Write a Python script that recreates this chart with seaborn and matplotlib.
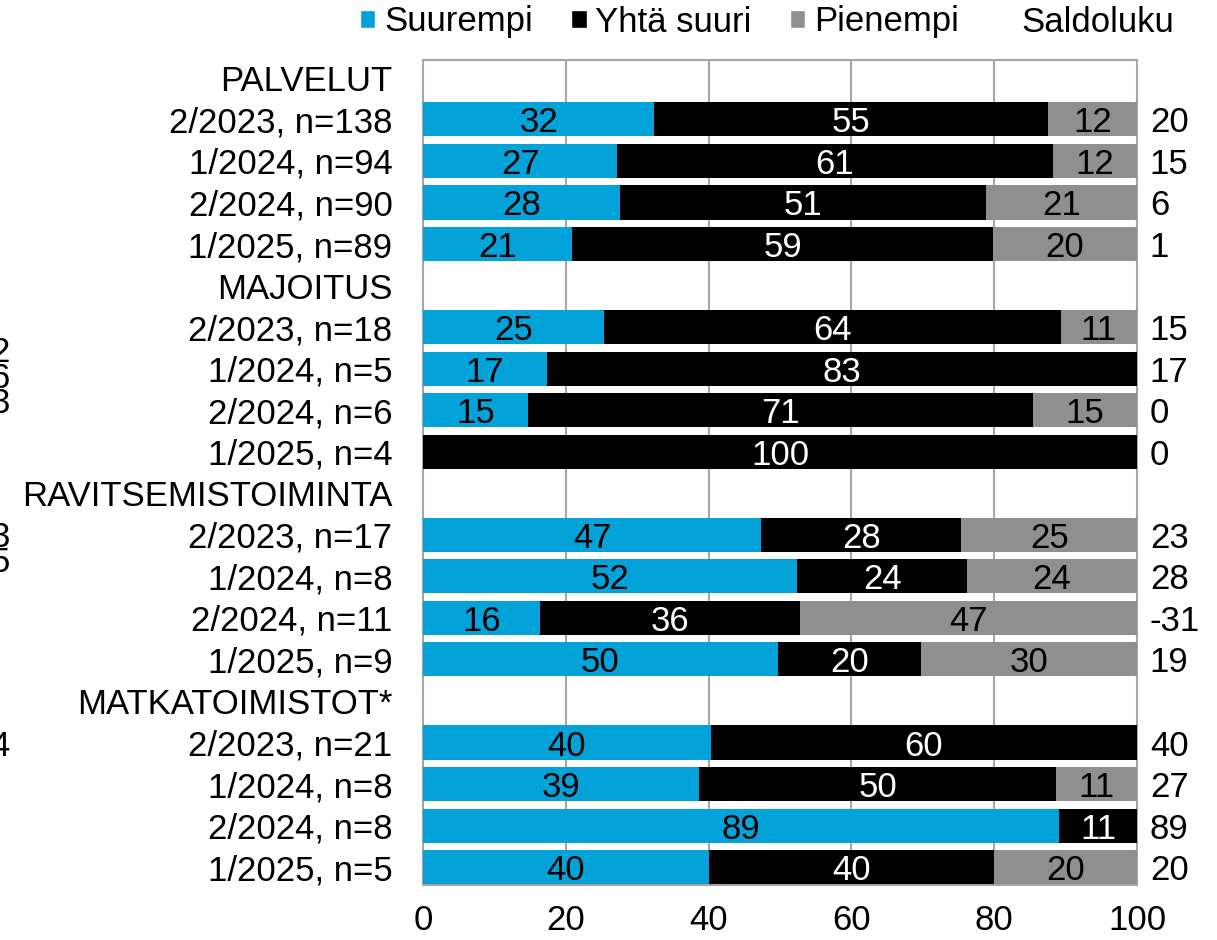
import numpy as np
import pandas as pd
import matplotlib
matplotlib.use("Agg")
import matplotlib.pyplot as plt
from matplotlib.patches import Patch
import seaborn as sns

# ---- data ----
groups = ["PALVELUT", "MAJOITUS", "RAVITSEMISTOIMINTA", "MATKATOIMISTOT*"]
row_labels = [
    ["2/2023, n=138", "1/2024, n=94", "2/2024, n=90", "1/2025, n=89"],
    ["2/2023, n=18", "1/2024, n=5", "2/2024, n=6", "1/2025, n=4"],
    ["2/2023, n=17", "1/2024, n=8", "2/2024, n=11", "1/2025, n=9"],
    ["2/2023, n=21", "1/2024, n=8", "2/2024, n=8", "1/2025, n=5"],
]
suurempi = [32.4, 27.2, 27.6, 20.9,
            25.4, 17.4, 14.7, 0.0,
            47.4, 52.4, 16.4, 49.7,
            40.3, 38.7, 89.1, 40.0]
yhta_suuri = [55.1, 61.0, 51.3, 58.9,
              63.9, 82.6, 70.7, 100.0,
              28.0, 23.8, 36.4, 20.0,
              59.7, 50.0, 10.9, 40.0]
pienempi = [12.5, 11.8, 21.1, 20.2,
            10.7, 0.0, 14.6, 0.0,
            24.6, 23.8, 47.2, 30.3,
            0.0, 11.3, 0.0, 20.0]
saldoluku = [20, 15, 6, 1,
             15, 17, 0, 0,
             23, 28, -31, 19,
             40, 27, 89, 20]
x_ticks = [0, 20, 40, 60, 80, 100]

C_BLUE = "#03A3D9"
C_BLACK = "#000000"
C_GRAY = "#8F8F8F"
GRID = "#A6A6A6"

# ---- build table ----
order, tick_text, rows = [], [], []
k = 0
for gi, g in enumerate(groups):
    order.append(f"h{gi}")
    tick_text.append(g)
    for lab in row_labels[gi]:
        key = f"r{k}"
        order.append(key)
        tick_text.append(lab)
        rows.append(dict(key=key, s=suurempi[k], y=yhta_suuri[k], p=pienempi[k]))
        k += 1
df = pd.DataFrame(rows)
df["c1"] = df["s"]
df["c2"] = df["s"] + df["y"]
df["c3"] = df["s"] + df["y"] + df["p"]

sns.set_style("white")
plt.rcParams["font.family"] = ["Liberation Sans", "DejaVu Sans"]
plt.rcParams["text.color"] = "black"
plt.rcParams["xtick.color"] = "black"
plt.rcParams["ytick.color"] = "black"
plt.rcParams["xtick.labelcolor"] = "black"
plt.rcParams["ytick.labelcolor"] = "black"
FS = 25

fig = plt.figure(figsize=(12.17, 9.40), dpi=100)
ax = fig.add_axes([423 / 1217, 1 - 885 / 940, (1137 - 423) / 1217, (885 - 60) / 940])

for col, c in [("c3", C_GRAY), ("c2", C_BLACK), ("c1", C_BLUE)]:
    sns.barplot(data=df, y="key", x=col, order=order, color=c, saturation=1,
                width=0.82, errorbar=None, orient="h", ax=ax, zorder=3,
                edgecolor="none", linewidth=0)

ax.set_xlim(0, 100)
ax.set_ylim(19.43, -0.43)
ax.set_xticks(x_ticks)
ax.set_xticklabels([str(t) for t in x_ticks], fontsize=FS, color="black")
ax.set_yticks(range(len(order)))
ax.set_yticklabels(tick_text, fontsize=FS, color="black")
ax.tick_params(axis="y", length=0, pad=22)
ax.tick_params(axis="x", length=0, pad=14)
ax.set_xlabel("")
ax.set_ylabel("")
ax.xaxis.grid(True, color=GRID, linewidth=1.5, zorder=0)
ax.yaxis.grid(False)
ax.set_axisbelow(True)
for sp in ax.spines.values():
    sp.set_visible(True)
    sp.set_color(GRID)
    sp.set_linewidth(1.5)

# segment labels and saldoluku
pos = {key: i for i, key in enumerate(order)}
for i, r in df.iterrows():
    yi = pos[r["key"]]
    segs = [(0, r["s"], "black"), (r["s"], r["y"], "white"), (r["s"] + r["y"], r["p"], "black")]
    for start, v, tc in segs:
        if v > 0:
            ax.text(start + v / 2, yi, f"{v:.0f}", ha="center", va="center_baseline",
                    color=tc, fontsize=FS, zorder=5)
    ax.text(1.018, yi, f"{saldoluku[i]}", transform=ax.get_yaxis_transform(),
            ha="left", va="center_baseline", fontsize=FS, color="black")

# legend
handles = [Patch(facecolor=C_BLUE), Patch(facecolor=C_BLACK), Patch(facecolor=C_GRAY),
           Patch(facecolor="none", edgecolor="none")]
labels = ["Suurempi", "Yhtä suuri", "Pienempi", "Saldoluku"]
fig.legend(handles, labels, loc="center", bbox_to_anchor=(767 / 1217, 1 - 22 / 940),
           ncol=4, frameon=False, fontsize=FS, handlelength=0.45, handleheight=0.45,
           handletextpad=0.25, columnspacing=1.1, borderaxespad=0, borderpad=0)

# clipped fragments at the left edge
for txt, ypx in [("2\n6\n3", 378), ("3\n5", 550), ("4", 746)]:
    fig.text(0, 1 - ypx / 940, txt, ha="center", va="center", fontsize=FS,
             linespacing=0.7, color="black")

fig.savefig("out.png", dpi=100)
